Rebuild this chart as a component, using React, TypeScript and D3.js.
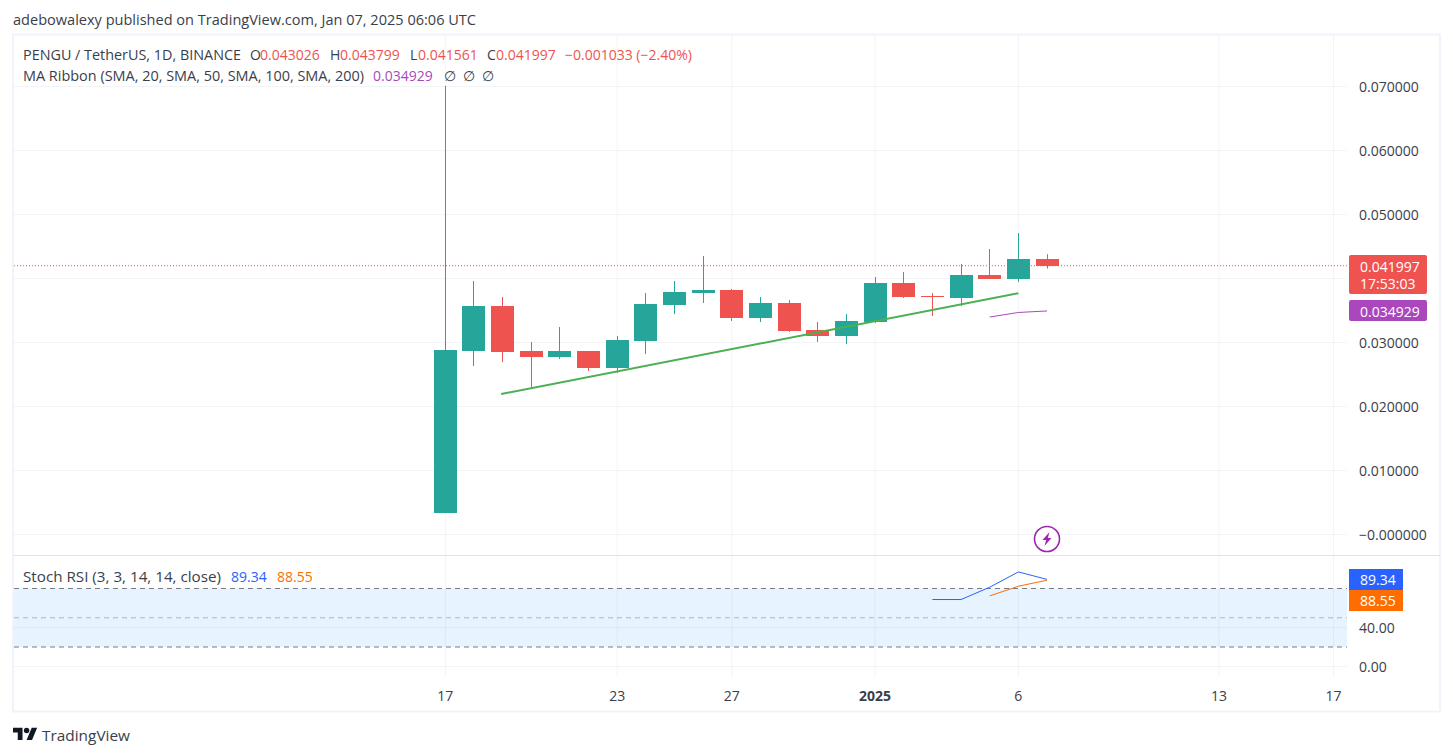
import React from "react";
import * as d3 from "d3";

const opens = [0.00336,0.02867,0.0357,0.02867,0.02773,0.02867,0.02602,0.03023,0.03586,0.03773,0.0382,0.03383,0.03617,0.03195,0.03102,0.0332,0.0393,0.03727,0.03695,0.04055,0.03992,0.043026];
const highs = [0.07008,0.03961,0.03711,0.03008,0.03242,0.02867,0.03102,0.03773,0.03961,0.04352,0.03836,0.03711,0.03664,0.0332,0.03445,0.04023,0.04102,0.03773,0.04227,0.04461,0.04711,0.043799];
const lows = [0.00336,0.02633,0.02695,0.02289,0.02742,0.02555,0.02523,0.0282,0.03445,0.03617,0.03336,0.0332,0.03164,0.03008,0.02977,0.03305,0.03695,0.03414,0.0357,0.03992,0.03945,0.041561];
const closes = [0.02883,0.0357,0.02852,0.02773,0.02867,0.02602,0.03039,0.03602,0.03789,0.0382,0.03383,0.03617,0.03180,0.03102,0.03336,0.0393,0.03711,0.03711,0.04055,0.03992,0.04305,0.041997];

const maIdx = [19, 20, 21];
const maValues = [0.03398, 0.03469, 0.034929];
const trendIdx = [1.95, 20];
const trendValues = [0.02195, 0.0377];
const kIdx = [17, 18, 19, 20, 21];
const kValues = [68.7, 68.7, 81.3, 97, 89.34];
const dIdx = [19, 20, 21];
const dValues = [72.4, 82.3, 88.55];

const priceTicks = [0, 0.01, 0.02, 0.03, 0.04, 0.05, 0.06, 0.07];
const stochTicks = [0, 40];
const timeTickIdx = [0, 6, 10, 15, 20, 27, 31];
const timeTickLabels = ["17", "23", "27", "2025", "6", "13", "17"];

const FONT = "'Open Sans', 'Noto Sans', sans-serif";
const GREEN = "#26a69a", RED = "#ef5350", PURPLE = "#ab47bc", BLUE = "#2962ff", ORANGE = "#ff6d00";
const GRID = "#f3f4f6", TEXT = "#3a3e4a";
const PANE_L = 14, PANE_R = 1347;

const x = d3.scaleLinear().domain([0, 21]).range([445.3, 1047]);
const y = d3.scaleLinear().domain([0, 0.07]).range([534.5, 86.5]);
const ys = d3.scaleLinear().domain([0, 40]).range([666.5, 627.5]);

type TProps = { x: number; y: number; w?: number; fill?: string; size?: number; anchor?: string; weight?: number; children: React.ReactNode };
function T({ x, y, w, fill = TEXT, size = 14, anchor = "start", weight = 400, children }: TProps) {
  return (
    <text x={x} y={y} fill={fill} fontSize={size} fontFamily={FONT} fontWeight={weight} textAnchor={anchor as any} dominantBaseline="central"
      {...(w ? { textLength: w, lengthAdjust: "spacingAndGlyphs" } : {})}>
      {children}
    </text>
  );
}

export default function App() {
  const priceLine = d3.line<number>().x((_, i) => x(maIdx[i])).y((d) => y(d));
  const trend = d3.line<number>().x((_, i) => x(trendIdx[i])).y((d) => y(d));
  const kLine = d3.line<number>().x((_, i) => x(kIdx[i])).y((d) => ys(d));
  const dLine = d3.line<number>().x((_, i) => x(dIdx[i])).y((d) => ys(d));
  const last = closes[closes.length - 1];
  const yLast = y(last);
  const fmt = d3.format(".6f");
  return (
    <svg width={1453} height={756} style={{ position: "absolute", left: 0, top: 0, background: "#fff" }}>
      <T x={13} y={19} w={463}>adebowalexy published on TradingView.com, Jan 07, 2025 06:06 UTC</T>

      {/* vertical grid */}
      {timeTickIdx.map((t, i) => (
        <g key={i}>
          <line x1={x(t)} x2={x(t)} y1={35} y2={555} stroke={GRID} />
          <line x1={x(t)} x2={x(t)} y1={556} y2={677} stroke={GRID} />
        </g>
      ))}
      {/* horizontal grid */}
      {priceTicks.map((t) => (
        <line key={t} x1={PANE_L} x2={PANE_R} y1={y(t)} y2={y(t)} stroke={GRID} />
      ))}

      {/* stoch pane */}
      <rect x={PANE_L} y={ys(80)} width={PANE_R - PANE_L} height={ys(20) - ys(80)} fill="#2196f3" fillOpacity={0.11} />
      {stochTicks.map((t) => (
        <line key={t} x1={PANE_L} x2={PANE_R} y1={ys(t)} y2={ys(t)} stroke={t === 40 ? "#e0e8ee" : GRID} />
      ))}
      <line x1={PANE_L} x2={PANE_R} y1={ys(80)} y2={ys(80)} stroke="#787b86" strokeDasharray="5 4" />
      <line x1={PANE_L} x2={PANE_R} y1={ys(50)} y2={ys(50)} stroke="#787b86" strokeOpacity={0.5} strokeDasharray="5 4" />
      <line x1={PANE_L} x2={PANE_R} y1={ys(20)} y2={ys(20)} stroke="#787b86" strokeDasharray="5 4" />

      {/* candles */}
      {opens.map((o, i) => {
        const c = closes[i];
        const col = c >= o ? GREEN : RED;
        const top = Math.round(y(Math.max(o, c)));
        const bot = Math.round(y(Math.min(o, c)));
        const cx = Math.round(x(i) - 0.5) + 0.5;
        return (
          <g key={i}>
            <line x1={cx} x2={cx} y1={y(highs[i])} y2={y(lows[i])} stroke={col} />
            <rect x={cx - 11.5} y={top} width={23} height={Math.max(bot - top, 1)} fill={col} />
          </g>
        );
      })}

      {/* last price line */}
      <line x1={PANE_L} x2={PANE_R} y1={yLast} y2={yLast} stroke={RED} strokeDasharray="1 2" />

      {/* drawings & indicators */}
      <path d={trend(trendValues)!} fill="none" stroke="#4caf50" strokeWidth={2} />
      <path d={priceLine(maValues)!} fill="none" stroke={PURPLE} strokeWidth={1} />
      <path d={kLine(kValues)!} fill="none" stroke={BLUE} strokeWidth={1} />
      <path d={dLine(dValues)!} fill="none" stroke={ORANGE} strokeWidth={1} />

      {/* lightning */}
      <g transform={`translate(${x(21)},539)`}>
        <circle r={12.5} fill="#fff" stroke="#9c27b0" strokeWidth={1.6} />
        <path d="M2.5,-7 L-4.5,1 L-0.8,1 L-2.5,7 L4.5,-1 L0.8,-1 Z" fill="#9c27b0" />
      </g>

      {/* legend */}
      <T x={23} y={54} w={218}>PENGU / TetherUS, 1D, BINANCE</T>
      <T x={250} y={54}>O</T><T x={260} y={54} fill={RED}>0.043026</T>
      <T x={330} y={54}>H</T><T x={340} y={54} fill={RED}>0.043799</T>
      <T x={410} y={54}>L</T><T x={418} y={54} fill={RED}>0.041561</T>
      <T x={487} y={54}>C</T><T x={496} y={54} fill={RED}>0.041997</T>
      <T x={565} y={54} fill={RED}>−0.001033 (−2.40%)</T>
      <T x={23} y={75} w={341}>MA Ribbon (SMA, 20, SMA, 50, SMA, 100, SMA, 200)</T>
      <T x={373} y={75} fill={PURPLE}>0.034929</T>
      <T x={444} y={75}>∅</T><T x={463} y={75}>∅</T><T x={482} y={75}>∅</T>
      <T x={23} y={576} w={198}>Stoch RSI (3, 3, 14, 14, close)</T>
      <T x={231} y={576} fill={BLUE}>89.34</T>
      <T x={277} y={576} fill={ORANGE}>88.55</T>

      {/* price axis */}
      {priceTicks.map((t) => (
        <T key={t} x={1359} y={y(t)}>{t === 0 ? "−0.000000" : fmt(t)}</T>
      ))}
      {stochTicks.map((t) => (
        <T key={t} x={1359} y={ys(t)}>{t.toFixed(2)}</T>
      ))}
      <rect x={1349} y={255} width={78} height={39} rx={2} fill={RED} />
      <T x={1360} y={266} fill="#fff">{last.toFixed(6)}</T>
      <T x={1360} y={283} fill="#ffffff" >17:53:03</T>
      <rect x={1349} y={300} width={78} height={21} rx={2} fill={PURPLE} />
      <T x={1360} y={311} fill="#fff">{maValues[2].toFixed(6)}</T>
      <rect x={1349} y={569} width={54} height={21} fill={BLUE} />
      <T x={1360} y={579.5} fill="#fff">{kValues[4].toFixed(2)}</T>
      <rect x={1349} y={590} width={54} height={21} fill={ORANGE} />
      <T x={1360} y={600.5} fill="#fff">{dValues[2].toFixed(2)}</T>

      {/* time axis */}
      {timeTickIdx.map((t, i) => (
        <T key={i} x={x(t)} y={695} anchor="middle" weight={timeTickLabels[i] === "2025" ? 700 : 400}>{timeTickLabels[i]}</T>
      ))}

      {/* frame */}
      <rect x={13} y={34.5} width={1427} height={677} fill="none" stroke="#f0f3fa" strokeWidth={2} />
      <line x1={14} x2={1440} y1={555.5} y2={555.5} stroke="#e0e3eb" />

      {/* logo */}
      <g transform="translate(13,725) scale(0.68)" fill="#131722">
        <path d="M14 22H7V11H0V4h14v18zM28 22h-8l7.5-18h8L28 22z" />
        <circle cx="20" cy="8" r="4" />
      </g>
      <T x={42} y={735} w={88} size={15}>TradingView</T>
    </svg>
  );
}
